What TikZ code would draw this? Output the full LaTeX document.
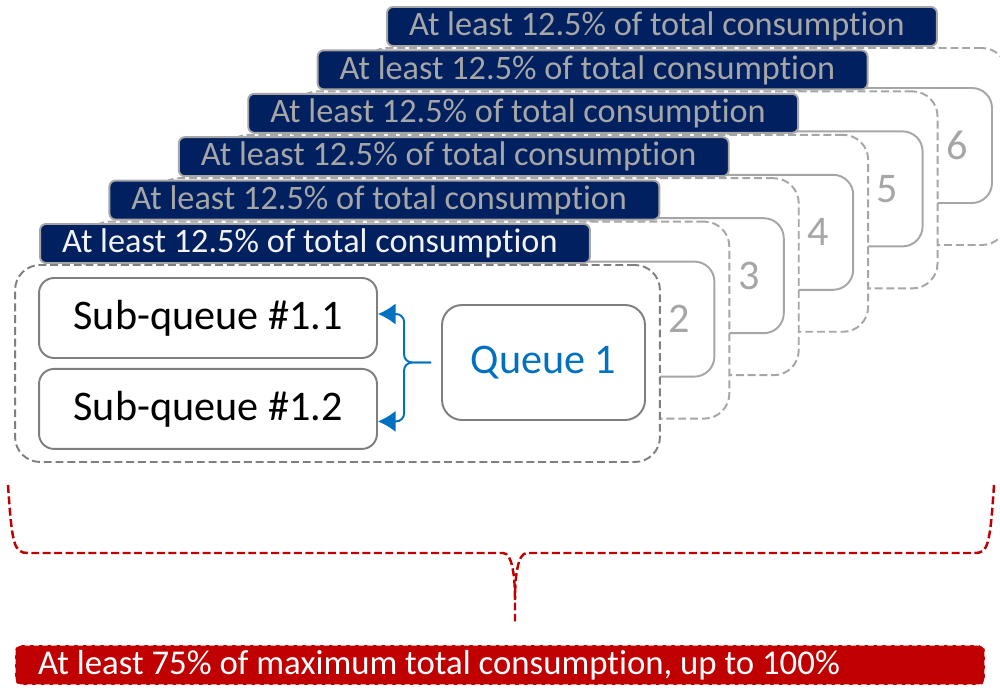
\documentclass[tikz,border=0pt]{standalone}
\usepackage{fontspec}
\setmainfont[RawFeature={-liga;-calt;-clig}]{Carlito}
\usepackage{tikz}
\usetikzlibrary{positioning,arrows.meta}
\definecolor{navy}{HTML}{002060}
\definecolor{frontgray}{HTML}{7F7F7F}
\definecolor{backgray}{HTML}{A6A6A6}
\definecolor{qblue}{HTML}{0070C0}
\definecolor{darkred}{HTML}{C00000}
\newcommand{\flushtext}[2]{\makebox[#1][l]{#2}}
\tikzset{
	>={Latex[length=10pt,width=12pt]},
	layerbox/.style={
		rectangle,
		rounded corners=0.5cm,
		fill=white,
		draw=backgray, line width=1.1pt,
		dash pattern=on 4.5pt off 2.2pt,
		minimum width=12.9cm,
		minimum height=3.94cm},
	queuebox/.style={
		rectangle,
		rounded corners=0.4cm,
		fill=white,
		draw=backgray, line width=1.1pt,
		minimum width=4.06cm,
		minimum height=2.3cm,
		font=\fontsize{24}{28}\selectfont},
	subbox/.style={
		rectangle,
		rounded corners=0.3cm,
		fill=white,
		draw=frontgray, line width=1.1pt,
		minimum width=6.76cm,
		minimum height=1.6cm,
		font=\fontsize{24}{28}\selectfont},
	titlebar/.style={
		rectangle,
		rounded corners=0.12cm,
		fill=navy,
		draw=backgray, line width=1.1pt,
		inner xsep=0.44cm, inner ysep=0pt,
		minimum width=11cm,
		minimum height=0.78cm,
		text=backgray,
		font=\fontsize{19.5}{23}\selectfont},
	numtext/.style={text=backgray, inner sep=0pt, font=\fontsize{24}{28}\selectfont},
	qarrow/.style={draw=qblue, line width=1.1pt, ->, rounded corners=0.16cm},
	redbrace/.style={draw=darkred, line width=1.4pt, dash pattern=on 4.5pt off 2pt},
	totalbar/.style={
		rectangle,
		rounded corners=0.12cm,
		fill=darkred,
		draw=white, densely dashed, line width=0.6pt,
		inner xsep=0.46cm, inner ysep=0pt,
		minimum width=19.4cm,
		minimum height=0.8cm,
		text=white,
		font=\fontsize{19.8}{23}\selectfont},
}
\begin{document}
\begin{tikzpicture}[x=0.02cm, y=-0.02cm]
	\useasboundingbox (0,0) rectangle (1000,688);
	% stacked queues, back to front
	\foreach \k in {6,5,4,3,2}{
		\pgfmathsetmacro{\dx}{69.4*(\k-1)}
		\pgfmathsetmacro{\dy}{43.4*(\k-1)}
		\node[layerbox] (out\k) at (337.5+\dx, 363.5-\dy) {};
		\node[queuebox] (q\k) at (543.5+\dx, 362.5-\dy) {};
		\node[numtext] at ([xshift=-0.72cm]q\k.east) {\k};
		\node[titlebar] (t\k) at (315+\dx, 243.5-\dy) {\flushtext{10.12cm}{At least 12.5\% of total consumption}};
	}
	\node[layerbox, draw=frontgray] (out1) at (337.5,363.5) {};
	\node[titlebar, text=white!95!black] (t1) at (315,243.5) {\flushtext{10.12cm}{At least 12.5\% of total consumption}};
	\node[queuebox, draw=frontgray, text=qblue] (q1) at (543.5,362.5) {Queue 1};
	\node[subbox] (s11) at (208,318) {Sub-queue \#1.1};
	\node[subbox, below=0.18cm of s11] (s12) {Sub-queue \#1.2};
	\coordinate (fork) at ([xshift=-0.74cm]q1.west);
	\draw[qarrow] ([xshift=-0.2cm]q1.west) -- (fork) |- ([yshift=0.08cm]s11.east);
	\draw[qarrow] ([xshift=-0.2cm]q1.west) -- (fork) |- ([yshift=-0.25cm]s12.east);
	% total
	\node[totalbar] (total) at (500,665) {\flushtext{18.48cm}{At least 75\% of maximum total consumption, up to 100\%}};
	\coordinate (tip) at ([xshift=0.3cm, yshift=0.46cm]total.north);
	\coordinate (bl) at (8,485);
	\coordinate (br) at (994,485);
	\draw[redbrace] (bl) .. controls (12,545) and (14,553) .. (28,553) -- (503,553)
		.. controls (512,553) and (515,575) .. (515,600) -- (tip);
	\draw[redbrace] (br) .. controls (990,545) and (988,553) .. (975,553) -- (527,553)
		.. controls (518,553) and (515,575) .. (515,600);
\end{tikzpicture}
\end{document}
